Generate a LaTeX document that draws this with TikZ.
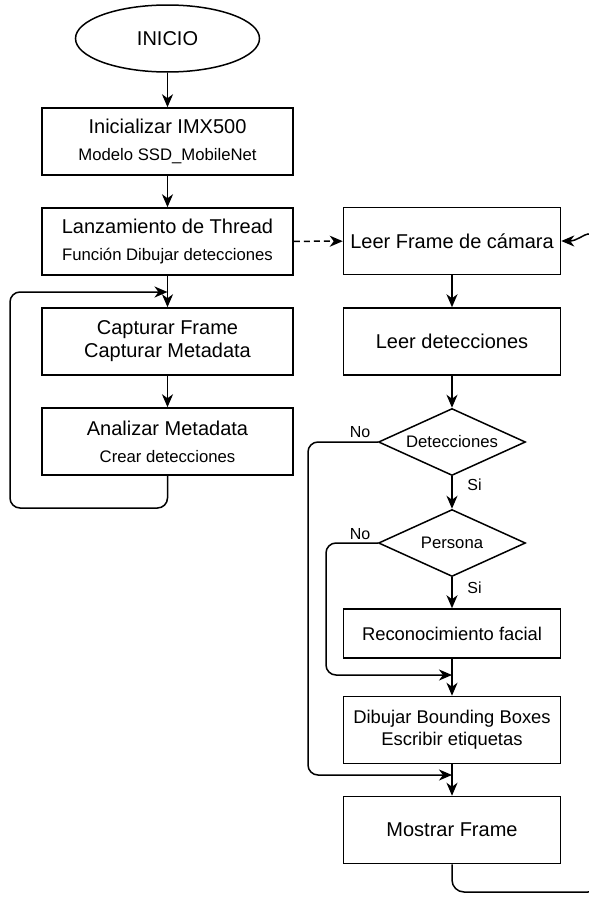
\documentclass[tikz,border=0pt]{standalone}
\usepackage{fontspec}
\setmainfont{Liberation Sans}
\usetikzlibrary{shapes.geometric,arrows.meta}

% Font sizes used in the chart
\newcommand{\fbig}{\fontsize{20}{23}\selectfont}
\newcommand{\fsml}{\fontsize{16.7}{20}\selectfont}
\newcommand{\fmid}{\fontsize{18.4}{22}\selectfont}
\newcommand{\flab}{\fontsize{16}{19}\selectfont}

\begin{document}
\begin{tikzpicture}[x=1pt, y=-1pt, line width=1.5pt,
  lbox/.style={draw, rectangle, minimum width=251pt, minimum height=67pt,
               align=center, inner sep=0pt, font=\fbig},
  rbox/.style={draw, rectangle, minimum width=217pt, minimum height=67pt,
               align=center, inner sep=0pt, font=\fbig},
  decision/.style={draw, diamond, shape aspect=2.2, minimum width=147pt,
               minimum height=67pt, inner sep=0pt, font=\fsml},
  arr/.style={-{Stealth[length=13pt, width=11pt, inset=4pt]}},
  lab/.style={font=\flab, inner sep=0pt}]

\useasboundingbox[fill=white] (0,0) rectangle (589,897);

% ---- main thread (left column) ----
\node[draw, ellipse, minimum width=184pt, minimum height=67pt, inner sep=0pt,
      font=\fbig] (start) at (167.5,38.5) {INICIO};
\node[lbox] (init) at (167.5,141.5)
  {Inicializar IMX500\\[4pt]{\fsml Modelo SSD\_MobileNet}};
\node[lbox] (thread) at (167.5,241.5)
  {Lanzamiento de Thread\\[4pt]{\fsml Función Dibujar detecciones}};
\node[lbox] (capture) at (167.5,341.5)
  {Capturar Frame\\Capturar Metadata};
\node[lbox] (analyse) at (167.5,441.5)
  {Analizar Metadata\\[4pt]{\fsml Crear detecciones}};
\coordinate (loopin) at (167.5,292);

\draw[arr] (start) -- (init);
\draw[arr] (init) -- (thread);
\draw[arr] (thread) -- (capture);
\draw[arr] (capture) -- (analyse);
\draw[arr, rounded corners=10pt] (analyse.south) -- (167.5,508) -- (10,508)
  -- (10,292) -- (loopin);

% ---- drawing thread (right column) ----
\node[rbox] (frame) at (452,241) {Leer Frame de cámara};
\node[rbox] (readdet) at (452,341.5) {Leer detecciones};
\node[decision] (hasdet) at (452,442) {Detecciones};
\node[decision] (person) at (452,543) {Persona};
\node[rbox, minimum height=49pt, font=\fmid] (face) at (452,633.5)
  {Reconocimiento facial};
\node[rbox, font=\fmid] (boxes) at (452,730)
  {Dibujar Bounding Boxes\\Escribir etiquetas};
\node[rbox] (show) at (452,830) {Mostrar Frame};
\coordinate (joinA) at (452,675);
\coordinate (joinB) at (452,775);

\draw[arr, dashed, dash pattern=on 6pt off 4pt] (thread) -- (frame);
\draw[arr] (frame) -- (readdet);
\draw[arr] (readdet) -- (hasdet);
\draw[arr] (hasdet) -- (person);
\draw[arr] (person) -- (face);
\draw[arr] (face) -- (boxes);
\draw[arr] (boxes) -- (show);

\draw[arr, rounded corners=10pt] (person.west) -- (326,543) -- (326,675) -- (joinA);
\draw[arr, rounded corners=10pt] (hasdet.west) -- (308,442) -- (308,775) -- (joinB);

\draw[arr, rounded corners=12pt] (show.south) -- (452,892) -- (600,892)
  -- (600,234) to[out=180, in=0] (frame.east);

% branch labels
\node[lab] (no1) at (360,432) {No};
\node[lab] (si1) at (474.5,485) {Si};
\node[lab] (no2) at (360,534) {No};
\node[lab] (si2) at (474.5,588) {Si};
\end{tikzpicture}
\end{document}
